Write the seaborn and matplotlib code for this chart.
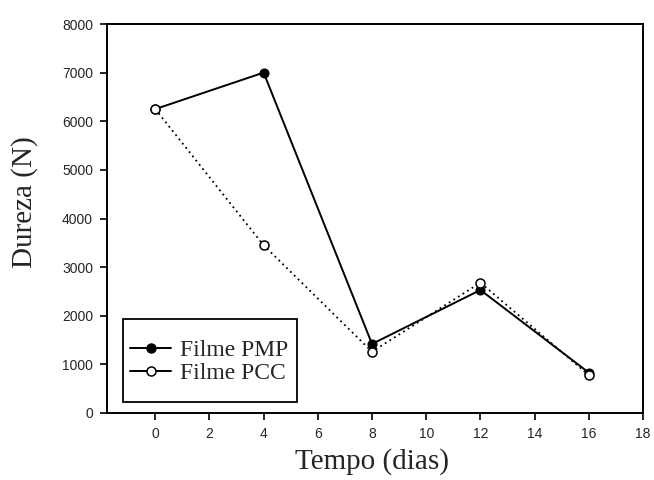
import matplotlib
matplotlib.use("Agg")
import matplotlib.pyplot as plt
from matplotlib.lines import Line2D
from matplotlib.patches import Rectangle
import seaborn as sns
import pandas as pd

dias = [0, 4, 8, 12, 16]
pmp = [6250, 7000, 1420, 2530, 830]
pcc = [6250, 3450, 1260, 2680, 780]
series_names = ["Filme PMP", "Filme PCC"]
x_ticks = [0, 2, 4, 6, 8, 10, 12, 14, 16, 18]
y_ticks = [0, 1000, 2000, 3000, 4000, 5000, 6000, 7000, 8000]

df = pd.DataFrame({
    "Tempo": dias * 2,
    "Dureza": pmp + pcc,
    "Filme": [series_names[0]] * len(dias) + [series_names[1]] * len(dias),
})

sns.set_style("ticks")
fig = plt.figure(figsize=(6.54, 4.8), dpi=100)
ax = fig.add_axes([107/654, 1 - 413/480, 536/654, 389/480])

sns.lineplot(data=df[df.Filme == series_names[0]], x="Tempo", y="Dureza", ax=ax,
             color="black", marker="o", legend=False, zorder=3)
sns.lineplot(data=df[df.Filme == series_names[1]], x="Tempo", y="Dureza", ax=ax,
             color="black", marker="o", legend=False, zorder=4)

l_pmp, l_pcc = ax.lines[0], ax.lines[1]
l_pmp.set_linestyle("-")
l_pmp.set_linewidth(1.4)
l_pmp.set_markersize(6.5)
l_pmp.set_markerfacecolor("black")
l_pmp.set_markeredgecolor("black")
l_pcc.set_linestyle((0, (1, 2.0)))
l_pcc.set_linewidth(1.3)
l_pcc.set_markersize(6.5)
l_pcc.set_markerfacecolor("white")
l_pcc.set_markeredgecolor("black")
l_pcc.set_markeredgewidth(1.1)

ax.set_xlim(-1.78, 18)
ax.set_ylim(0, 8000)
ax.set_xticks(x_ticks)
ax.set_yticks(y_ticks)
ax.tick_params(direction="out", length=5, width=1.2, pad=5, labelsize=10, color="black")
for lab in ax.get_xticklabels() + ax.get_yticklabels():
    lab.set_fontfamily("Liberation Sans")
for s in ax.spines.values():
    s.set_visible(True)
    s.set_linewidth(1.4)
    s.set_color("black")

ax.set_xlabel("Tempo (dias)", fontfamily="Liberation Serif", fontsize=21)
ax.xaxis.set_label_coords((372 - 107) / 536, (413 - 462) / 389)
ax.xaxis.label.set_va("center")
ax.set_ylabel("Dureza (N)", fontfamily="Liberation Serif", fontsize=21)
ax.yaxis.set_label_coords((25 - 107) / 536, (413 - 202) / 389)
ax.yaxis.label.set_va("center")

# legend frame
ax.add_patch(Rectangle((16 / 536, 11 / 389), 174 / 536, 83 / 389, transform=ax.transAxes,
                       fill=True, facecolor="white", edgecolor="black", lw=1.3, zorder=5))
handles = [
    Line2D([], [], color="black", lw=1.4, marker="o", markersize=6.5,
           markerfacecolor="black", markeredgecolor="black"),
    Line2D([], [], color="black", lw=1.4, marker="o", markersize=6.5,
           markerfacecolor="white", markeredgecolor="black", markeredgewidth=1.1),
]
leg = ax.legend(handles, series_names, loc="center left",
                bbox_to_anchor=((130 - 107) / 536, (413 - 362) / 389),
                borderaxespad=0, borderpad=0, frameon=False,
                prop={"family": "Liberation Serif", "size": 17},
                handlelength=1.75, handletextpad=0.35, labelspacing=0.05)
leg.set_zorder(6)

fig.savefig("out.png", dpi=100)
